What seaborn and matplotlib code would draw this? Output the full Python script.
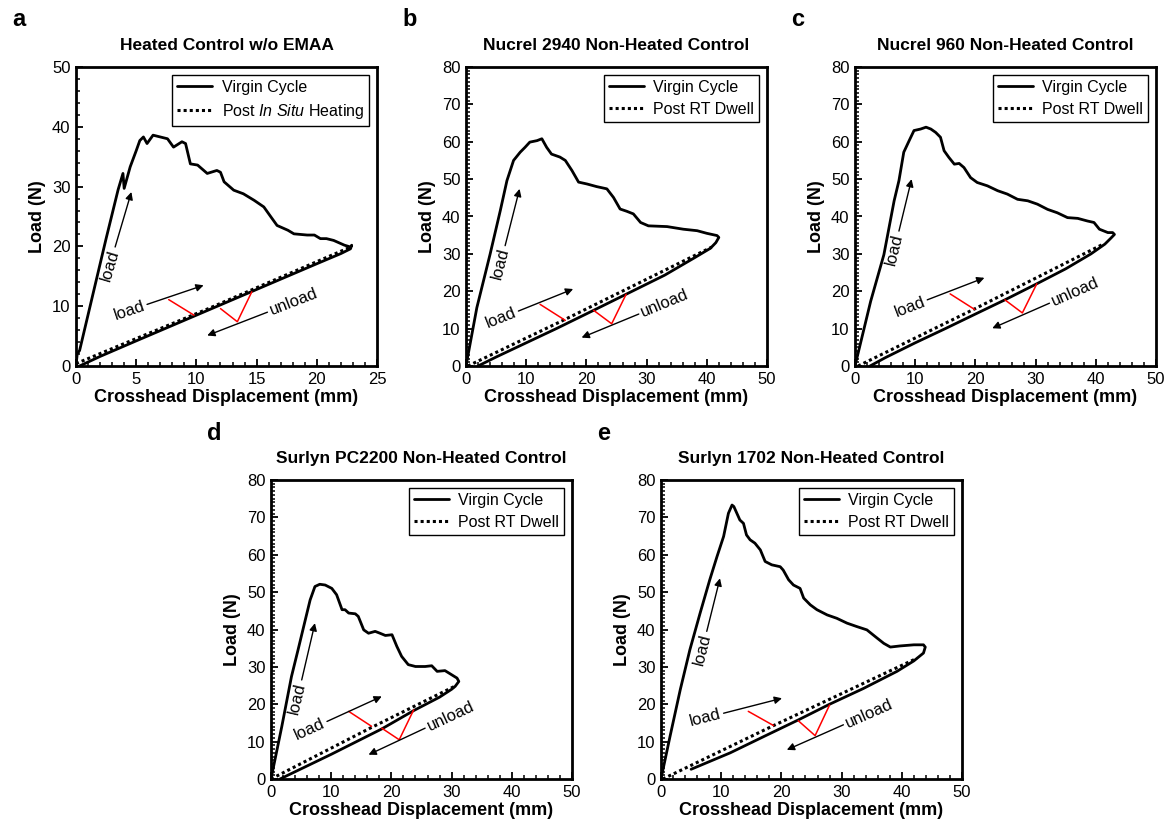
import numpy as np
import matplotlib
matplotlib.use("Agg")
import matplotlib.pyplot as plt
from matplotlib.ticker import MultipleLocator
import seaborn as sns

sns.set_theme(style="ticks")
plt.rcParams["font.family"] = ["Liberation Sans", "DejaVu Sans"]
plt.rcParams["mathtext.fontset"] = "custom"
plt.rcParams["mathtext.rm"] = "Liberation Sans"
plt.rcParams["mathtext.it"] = "Liberation Sans:italic"
for k in ["text.color", "axes.labelcolor", "xtick.color", "ytick.color", "axes.edgecolor"]:
    plt.rcParams[k] = "black"

# ── data ────────────────────────────────────────────────────────────────────

# a: Heated Control w/o EMAA
a_virgin_x = [0, 0.1, 0.3, 1.5, 2.5, 3.5, 3.9, 4.0, 4.5, 5.0, 5.3, 5.6, 5.9, 6.4, 7.0, 7.6,
              8.1, 8.8, 9.1, 9.5, 10.1, 10.9, 11.7, 12.0, 12.3, 13.1, 13.9, 14.8, 15.6, 16.2,
              16.7, 17.6, 18.1, 19.2, 19.8, 20.3, 20.8, 21.4, 22.3, 22.8, 22.9,
              22.8, 22.5, 22.0, 20.0, 15.0, 10.0, 5.0, 2.0, 0.3]
a_virgin_y = [0, 2.0, 2.6, 12.8, 21.3, 29.5, 32.2, 29.7, 33.3, 36.0, 37.7, 38.3, 37.2, 38.6,
              38.3, 38.0, 36.6, 37.5, 37.2, 33.8, 33.6, 32.2, 32.7, 32.4, 30.8, 29.4, 28.8,
              27.7, 26.6, 24.9, 23.5, 22.7, 22.1, 21.9, 21.9, 21.3, 21.3, 21.0, 20.2, 19.9, 20.2,
              19.6, 19.3, 18.8, 17.1, 12.8, 8.5, 4.2, 1.6, 0.0]
a_post_x = [0, 11.0, 22.7]
a_post_y = [0.4, 9.6, 19.8]

# b: Nucrel 2940 Non-Heated Control
b_virgin_x = [0, 1.8, 4.0, 5.7, 6.8, 7.9, 9.0, 9.8, 10.6, 11.8, 12.6, 13.4, 14.2, 15.6, 16.5,
              17.6, 18.7, 20.1, 21.7, 23.4, 24.5, 25.6, 26.7, 27.8, 29.0, 30.3, 33.4, 36.1,
              38.4, 40.0, 41.7, 42.0,
              41.5, 40.6, 38.0, 33.0, 26.6, 21.2, 15.0, 10.0, 5.0, 2.0]
b_virgin_y = [0, 15.6, 29.9, 41.6, 49.6, 55.0, 57.2, 58.5, 59.9, 60.3, 60.8, 58.5, 56.7, 55.9,
              55.0, 52.3, 49.2, 48.7, 48.0, 47.4, 45.1, 42.0, 41.4, 40.7, 38.4, 37.5, 37.3,
              36.6, 36.2, 35.5, 34.9, 34.4,
              33.0, 31.5, 29.0, 24.3, 19.2, 14.9, 10.0, 6.2, 2.4, 0.0]
b_post_x = [0.3, 16.5, 40.8]
b_post_y = [0.0, 12.5, 31.8]

# c: Nucrel 960 Non-Heated Control
c_virgin_x = [0, 2.6, 4.8, 6.5, 7.3, 8.1, 9.0, 9.8, 10.9, 11.8, 12.6, 13.4, 14.2, 14.8, 15.6,
              16.5, 17.3, 18.1, 19.2, 20.3, 22.0, 23.7, 25.3, 27.0, 28.7, 30.3, 32.0, 33.6,
              35.3, 37.0, 38.6, 39.7, 40.6, 42.0, 42.8, 43.1,
              42.5, 41.5, 39.2, 35.0, 30.2, 24.9, 20.0, 15.0, 10.0, 5.0, 2.5]
c_virgin_y = [0, 17.3, 29.8, 44.2, 49.6, 57.2, 60.3, 63.0, 63.4, 63.9, 63.4, 62.5, 61.2, 57.6,
              55.8, 54.0, 54.2, 53.1, 50.4, 49.1, 48.2, 46.9, 46.0, 44.6, 44.2, 43.3, 41.9,
              41.0, 39.7, 39.5, 38.8, 38.4, 36.6, 35.7, 35.7, 35.2,
              34.2, 32.6, 30.0, 26.0, 22.0, 17.7, 13.9, 10.0, 6.2, 2.2, 0.0]
c_post_x = [0.5, 19.9, 41.1]
c_post_y = [0.0, 15.3, 32.5]

# d: Surlyn PC2200 Non-Heated Control
d_virgin_x = [0, 1.8, 3.4, 4.5, 5.7, 6.5, 7.3, 8.1, 9.0, 10.1, 10.9, 11.8, 12.3, 12.9, 14.0,
              14.5, 15.4, 16.2, 17.3, 18.1, 19.0, 20.1, 20.9, 21.7, 22.8, 24.0, 25.6, 26.7,
              27.6, 28.9, 30.0, 30.9, 31.2,
              30.6, 30.0, 28.0, 23.7, 18.4, 10.0, 1.5]
d_virgin_y = [0, 14.1, 27.4, 34.6, 42.6, 47.9, 51.5, 52.1, 51.9, 51.0, 49.3, 45.3, 45.3, 44.4,
              44.2, 43.5, 39.9, 39.0, 39.5, 39.0, 38.4, 38.6, 35.5, 32.8, 30.6, 30.1, 30.1,
              30.3, 28.8, 29.0, 27.9, 27.0, 26.1,
              24.8, 24.0, 21.9, 18.3, 13.4, 6.6, 0.0]
d_post_x = [0.0, 16.7, 30.5]
d_post_y = [0.0, 13.8, 24.8]

# e: Surlyn 1702 Non-Heated Control
e_virgin_x = [0, 1.5, 3.2, 4.8, 6.5, 8.1, 9.3, 10.4, 11.2, 11.8, 12.1, 12.6, 13.1, 13.7, 14.2,
              14.8, 15.6, 16.5, 17.3, 18.4, 19.8, 20.3, 21.2, 22.0, 23.1, 23.7, 24.8, 25.9,
              27.6, 29.2, 30.9, 32.5, 34.2, 35.9, 37.0, 38.1, 39.7, 42.0, 43.6, 43.9,
              43.6, 42.0, 39.2, 33.6, 28.0, 22.8, 17.0, 11.5, 5.0]
e_virgin_y = [0, 11.4, 23.9, 34.6, 44.4, 53.3, 59.5, 64.9, 71.1, 73.3, 72.9, 71.1, 69.3, 68.4,
              65.3, 64.0, 63.1, 61.3, 58.2, 57.3, 56.8, 55.9, 53.3, 51.9, 51.0, 48.4, 46.6,
              45.3, 43.9, 43.0, 41.7, 40.8, 39.9, 37.7, 36.3, 35.3, 35.6, 35.9, 35.9, 35.3,
              33.7, 31.6, 28.8, 24.2, 20.0, 15.8, 11.3, 7.0, 2.6]
e_post_x = [0.3, 18.7, 42.5]
e_post_y = [0.0, 14.3, 32.3]

# annotation anchors (data coords): arrow tail, arrow head
a_notes = dict(steep=[(3.25, 19.9), (4.6, 29.1)], low=[(5.9, 10.3), (10.6, 13.5)],
               unload=[(15.9, 9.0), (10.9, 5.1)], red=[(7.7, 11.1), (9.8, 8.5)],
               vee=[(12.0, 9.6), (13.4, 7.4), (14.6, 12.4)])
b_notes = dict(steep=[(6.5, 32.2), (8.9, 47.4)], low=[(8.7, 14.7), (17.8, 20.6)],
               unload=[(28.7, 13.9), (19.2, 7.6)], red=[(12.3, 16.5), (16.5, 12.2)],
               vee=[(21.2, 14.9), (24.2, 11.3), (26.6, 19.2)])
c_notes = dict(steep=[(7.3, 36.1), (9.4, 50.0)], low=[(12.0, 17.7), (21.5, 23.6)],
               unload=[(32.3, 16.8), (22.8, 10.1)], red=[(15.8, 19.3), (19.9, 15.1)],
               vee=[(24.9, 17.7), (27.8, 14.2), (30.2, 22.0)])
d_notes = dict(steep=[(5.1, 26.5), (7.3, 41.7)], low=[(9.3, 15.4), (18.4, 22.1)],
               unload=[(25.6, 13.6), (16.2, 6.5)], red=[(12.9, 18.1), (16.7, 14.1)],
               vee=[(18.4, 13.6), (21.3, 10.5), (23.7, 18.5)])
e_notes = dict(steep=[(7.6, 39.5), (9.8, 53.7)], low=[(10.4, 17.6), (20.1, 21.6)],
               unload=[(30.3, 14.5), (20.9, 7.8)], red=[(14.5, 18.1), (18.7, 14.3)],
               vee=[(22.8, 15.6), (25.6, 11.6), (28.0, 19.8)])

panels = [
    dict(letter="a", title="Heated Control w/o EMAA", vx=a_virgin_x, vy=a_virgin_y,
         px=a_post_x, py=a_post_y, post_label="Post $\\mathit{In\\ Situ}$ Heating",
         xmax=25, ymax=50, xmaj=5, xmin=1, ymaj=10, ymin=2, notes=a_notes,
         pos=(76, 67)),
    dict(letter="b", title="Nucrel 2940 Non-Heated Control", vx=b_virgin_x, vy=b_virgin_y,
         px=b_post_x, py=b_post_y, post_label="Post RT Dwell",
         xmax=50, ymax=80, xmaj=10, xmin=2, ymaj=10, ymin=1, notes=b_notes,
         pos=(466, 67)),
    dict(letter="c", title="Nucrel 960 Non-Heated Control", vx=c_virgin_x, vy=c_virgin_y,
         px=c_post_x, py=c_post_y, post_label="Post RT Dwell",
         xmax=50, ymax=80, xmaj=10, xmin=2, ymaj=10, ymin=1, notes=c_notes,
         pos=(855, 67)),
    dict(letter="d", title="Surlyn PC2200 Non-Heated Control", vx=d_virgin_x, vy=d_virgin_y,
         px=d_post_x, py=d_post_y, post_label="Post RT Dwell",
         xmax=50, ymax=80, xmaj=10, xmin=2, ymaj=10, ymin=1, notes=d_notes,
         pos=(271, 480)),
    dict(letter="e", title="Surlyn 1702 Non-Heated Control", vx=e_virgin_x, vy=e_virgin_y,
         px=e_post_x, py=e_post_y, post_label="Post RT Dwell",
         xmax=50, ymax=80, xmaj=10, xmin=2, ymaj=10, ymin=1, notes=e_notes,
         pos=(661, 480)),
]

W, H = 1165, 822
AX_W, AX_H = 301, 299
fig = plt.figure(figsize=(W / 100, H / 100), dpi=100)


def screen_angle(ax, p0, p1):
    d0 = ax.transData.transform(p0)
    d1 = ax.transData.transform(p1)
    return np.degrees(np.arctan2(d1[1] - d0[1], d1[0] - d0[0]))


def arrow(ax, tail, head):
    ax.annotate("", xy=head, xytext=tail,
                arrowprops=dict(arrowstyle="-|>", color="black", lw=1.0,
                                mutation_scale=11, shrinkA=0, shrinkB=0))


def labelled(ax, text, tail, head, ha, flip=False):
    ang = screen_angle(ax, tail, head)
    if flip:
        ang -= 180
    rad = np.radians(ang)
    sign = -1 if ha == "right" else 1
    ax.annotate(text, xy=tail, xytext=(sign * 2 * np.cos(rad), sign * 2 * np.sin(rad)),
                textcoords="offset points", rotation=ang, rotation_mode="anchor",
                ha=ha, va="center", fontsize=12)


for p in panels:
    left, top = p["pos"]
    ax = fig.add_axes([left / W, 1 - (top + AX_H) / H, AX_W / W, AX_H / H])

    sns.lineplot(x=p["vx"], y=p["vy"], sort=False, estimator=None, color="black",
                 lw=2.0, ax=ax, label="Virgin Cycle")
    sns.lineplot(x=p["px"], y=p["py"], sort=False, estimator=None, color="black",
                 lw=2.2, ls=(0, (1, 1)), ax=ax, label=p["post_label"])

    ax.set_xlim(0, p["xmax"])
    ax.set_ylim(0, p["ymax"])
    ax.xaxis.set_major_locator(MultipleLocator(p["xmaj"]))
    ax.xaxis.set_minor_locator(MultipleLocator(p["xmin"]))
    ax.yaxis.set_major_locator(MultipleLocator(p["ymaj"]))
    ax.yaxis.set_minor_locator(MultipleLocator(p["ymin"]))
    ax.tick_params(which="major", direction="in", length=5, width=1.3, labelsize=12,
                   pad=4)
    ax.tick_params(which="minor", direction="in", length=3, width=1.1)
    for s in ax.spines.values():
        s.set_linewidth(2)

    ax.set_xlabel("Crosshead Displacement (mm)", fontsize=13, fontweight="bold", labelpad=2)
    ax.set_ylabel("Load (N)", fontsize=13, fontweight="bold", labelpad=4)
    ax.set_title(p["title"], fontsize=12.5, fontweight="bold", pad=12)

    leg = ax.legend(loc="upper right", fontsize=11.5, frameon=True, fancybox=False,
                    framealpha=1, edgecolor="black", handlelength=2.2, handletextpad=0.6,
                    borderaxespad=0.5, borderpad=0.3, labelspacing=0.45)
    leg.get_frame().set_linewidth(1.0)

    n = p["notes"]
    arrow(ax, *n["steep"])
    labelled(ax, "load", n["steep"][0], n["steep"][1], ha="right")
    arrow(ax, *n["low"])
    labelled(ax, "load", n["low"][0], n["low"][1], ha="right")
    arrow(ax, *n["unload"])
    labelled(ax, "unload", n["unload"][0], n["unload"][1], ha="left", flip=True)
    rx, ry = zip(*n["red"])
    ax.plot(rx, ry, color="red", lw=1.1)
    vx, vy = zip(*n["vee"])
    ax.plot(vx, vy, color="red", lw=1.1)

    fig.text((left - 64) / W, 1 - (top - 47) / H, p["letter"], fontsize=17,
             fontweight="bold", ha="left", va="center")

fig.savefig("out.png", dpi=100)
